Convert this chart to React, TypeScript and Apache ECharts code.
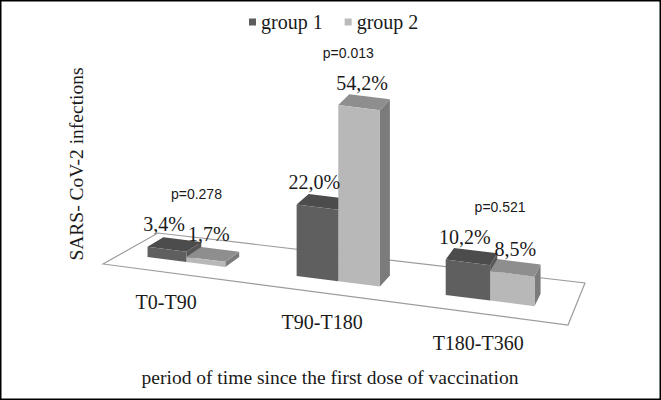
import { useEffect, useRef } from 'react';
import * as echarts from 'echarts';

const categories = ['T0-T90', 'T90-T180', 'T180-T360'];
const group1 = [3.4, 22.0, 10.2];
const group2 = [1.7, 54.2, 8.5];
const pValues = ['p=0.278', 'p=0.013', 'p=0.521'];
const seriesNames = ['group 1', 'group 2'];

const SERIF = "'Liberation Serif', 'Times New Roman', serif";
const SANS = "'Liberation Sans', Arial, sans-serif";
const TEXT = '#1a1a1a';

// fake perspective: the floor drops to the right and recedes up/right
const FLOOR_DROP = 61;
const DEPTH_LEFT = [55, -31];
const DEPTH_RIGHT = [17, -42];
const Z_FRONT = 0.33;
const Z_BACK = 0.63;
const BAR_W = 0.27;

const FACES = [
  { front: '#5f5f5f', top: '#4c4c4c', side: '#565656', legend: '#5c5c5c' },
  { front: '#b8b8b8', top: '#8e8e8e', side: '#7b7b7b', legend: '#bababa' },
];

type CS = { x: number; y: number; width: number; height: number };

function project(cs: CS, baseY: number, px: number, z: number, h: number) {
  const u = (px - cs.x) / cs.width;
  const dx = DEPTH_LEFT[0] + (DEPTH_RIGHT[0] - DEPTH_LEFT[0]) * u;
  const dy = DEPTH_LEFT[1] + (DEPTH_RIGHT[1] - DEPTH_LEFT[1]) * u;
  return [px + z * dx, baseY + FLOOR_DROP * u + z * dy - h];
}

function barBox(api: any, cs: CS, idx: number, val: number, g: number) {
  const base = api.coord([idx, 0]);
  const top = api.coord([idx, val]);
  const u = (base[0] - cs.x) / cs.width;
  const s = 0.92 + 0.2 * u;
  const w = api.size([BAR_W, 0])[0] * s;
  const x0 = g === 0 ? base[0] - w : base[0];
  return { x0, x1: x0 + w, h: (base[1] - top[1]) * s, baseY: base[1] };
}

function fmt(v: number) {
  return v.toFixed(1).replace('.', ',') + '%';
}

function barRenderer(g: number) {
  return (params: any, api: any) => {
    const cs = params.coordSys as CS;
    const b = barBox(api, cs, api.value(0), api.value(1), g);
    const P = (x: number, z: number, h: number) => project(cs, b.baseY, x, z, h);
    const c = FACES[g];
    return {
      type: 'group',
      children: [
        {
          type: 'polygon',
          shape: { points: [P(b.x1, Z_FRONT, 0), P(b.x1, Z_BACK, 0), P(b.x1, Z_BACK, b.h), P(b.x1, Z_FRONT, b.h)] },
          style: { fill: c.side },
        },
        {
          type: 'polygon',
          shape: { points: [P(b.x0, Z_FRONT, b.h), P(b.x1, Z_FRONT, b.h), P(b.x1, Z_BACK, b.h), P(b.x0, Z_BACK, b.h)] },
          style: { fill: c.top },
        },
        {
          type: 'polygon',
          shape: { points: [P(b.x0, Z_FRONT, 0), P(b.x1, Z_FRONT, 0), P(b.x1, Z_FRONT, b.h), P(b.x0, Z_FRONT, b.h)] },
          style: { fill: c.front },
        },
      ],
    };
  };
}

export default function App() {
  const chartRef = useRef<HTMLDivElement | null>(null);

  useEffect(() => {
    if (!chartRef.current) return;
    const chart = echarts.init(chartRef.current, null, { renderer: 'svg' });

    const option = {
      animation: false,
      backgroundColor: '#fff',
      legend: {
        data: seriesNames,
        left: 244,
        top: 7,
        icon: 'rect',
        itemWidth: 7,
        itemHeight: 7,
        itemGap: 22,
        textStyle: { fontFamily: SERIF, fontSize: 20, color: TEXT },
      },
      grid: { left: 103, right: 93, top: 72, bottom: 136 },
      xAxis: { type: 'value', min: -0.43, max: 2.55, show: false },
      yAxis: { type: 'value', min: 0, max: 60, show: false },
      graphic: [
        {
          type: 'rect',
          shape: { x: 0.75, y: 0.75, width: 659.5, height: 398.5 },
          style: { fill: 'none', stroke: '#000', lineWidth: 1.5 },
        },
        {
          type: 'text',
          x: 76,
          y: 164,
          rotation: Math.PI / 2,
          style: {
            text: 'SARS- CoV-2 infections',
            fontFamily: SERIF,
            fontSize: 19.5,
            fill: TEXT,
            align: 'center',
            verticalAlign: 'middle',
          },
        },
        {
          type: 'text',
          x: 330,
          y: 377,
          style: {
            text: 'period of time since the first dose of vaccination',
            fontFamily: SERIF,
            fontSize: 19.5,
            fill: TEXT,
            align: 'center',
            verticalAlign: 'middle',
          },
        },
      ],
      series: [
        {
          type: 'custom',
          name: 'floor',
          data: [[0, 0]],
          renderItem: (params: any, api: any) => {
            const cs = params.coordSys as CS;
            const baseY = api.coord([api.value(0), 0])[1];
            const L = cs.x;
            const R = cs.x + cs.width;
            return {
              type: 'polygon',
              shape: {
                points: [
                  project(cs, baseY, L, 0, 0),
                  project(cs, baseY, L, 1, 0),
                  project(cs, baseY, R, 1, 0),
                  project(cs, baseY, R, 0, 0),
                ],
              },
              style: { fill: '#fff', stroke: '#9c9c9c', lineWidth: 1.2 },
            };
          },
        },
        {
          type: 'custom',
          name: seriesNames[0],
          itemStyle: { color: FACES[0].legend },
          data: group1.map((v, i) => [i, v]),
          renderItem: barRenderer(0),
        },
        {
          type: 'custom',
          name: seriesNames[1],
          itemStyle: { color: FACES[1].legend },
          data: group2.map((v, i) => [i, v]),
          renderItem: barRenderer(1),
        },
        {
          type: 'custom',
          name: 'labels',
          data: categories.map((_, i) => [i, group1[i], group2[i]]),
          renderItem: (params: any, api: any) => {
            const cs = params.coordSys as CS;
            const idx = api.value(0);
            const children: any[] = [];
            let topY = Infinity;
            [api.value(1), api.value(2)].forEach((v: number, g: number) => {
              const b = barBox(api, cs, idx, v, g);
              const p = project(cs, b.baseY, (b.x0 + b.x1) / 2, Z_FRONT, b.h);
              topY = Math.min(topY, p[1]);
              children.push({
                type: 'text',
                x: p[0] + (g === 0 ? -3 : 3),
                y: p[1] - 25,
                style: {
                  text: fmt(v),
                  fontFamily: SERIF,
                  fontSize: 20,
                  fill: TEXT,
                  align: 'center',
                  verticalAlign: 'middle',
                },
              });
            });
            const base = api.coord([idx, 0]);
            const mid = project(cs, base[1], base[0], Z_FRONT, 0);
            children.push({
              type: 'text',
              x: mid[0] + 10,
              y: topY - 55,
              style: {
                text: pValues[params.dataIndex],
                fontFamily: SANS,
                fontSize: 14,
                fill: TEXT,
                align: 'center',
                verticalAlign: 'middle',
              },
            });
            const front = project(cs, base[1], base[0], 0, 0);
            children.push({
              type: 'text',
              x: front[0] - 4,
              y: front[1] + 29,
              style: {
                text: categories[params.dataIndex],
                fontFamily: SERIF,
                fontSize: 20,
                fill: TEXT,
                align: 'center',
                verticalAlign: 'middle',
              },
            });
            return { type: 'group', children };
          },
        },
      ],
    };

    chart.setOption(option as any);
    return () => chart.dispose();
  }, []);

  return (
    <div
      ref={chartRef}
      style={{ position: 'fixed', left: 0, top: 0, width: 661, height: 400 }}
    />
  );
}
